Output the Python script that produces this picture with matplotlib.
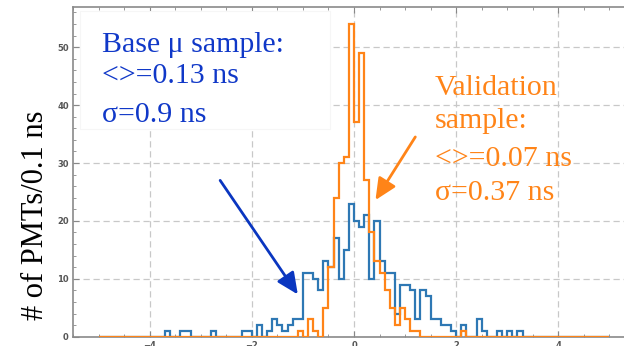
import numpy as np
import matplotlib
matplotlib.use("Agg")
import matplotlib.pyplot as plt
from matplotlib.patches import Rectangle
from matplotlib.ticker import MultipleLocator

# bin edges: -5 ns .. 5 ns in 0.1 ns steps
edges = np.round(np.linspace(-5.0, 5.0, 101), 2)

# counts per 0.1 ns bin, base muon sample
base_counts = [
    0, 0, 0, 0, 0, 0, 0, 0, 0, 0,
    0, 0, 0, 1, 0, 0, 1, 1, 0, 0,
    0, 0, 1, 0, 0, 0, 0, 0, 1, 1,
    0, 2, 0, 1, 3, 2, 1, 2, 3, 3,
    11, 11, 10, 8, 13, 12, 17, 10, 15, 23,
    20, 19, 21, 10, 20, 13, 11, 11, 4, 9,
    9, 8, 3, 8, 7, 3, 3, 2, 2, 1,
    0, 2, 0, 0, 3, 1, 0, 0, 1, 0,
    1, 0, 1, 0, 0, 0, 0, 0, 0, 0,
    0, 0, 0, 0, 0, 0, 0, 0, 0, 0,
]

# counts per 0.1 ns bin, validation sample
valid_counts = [
    0, 0, 0, 0, 0, 0, 0, 0, 0, 0,
    0, 0, 0, 0, 0, 0, 0, 0, 0, 0,
    0, 0, 0, 0, 0, 0, 0, 0, 0, 0,
    0, 0, 0, 0, 0, 0, 0, 0, 0, 1,
    0, 3, 1, 0, 5, 12, 24, 30, 31, 54,
    37, 49, 27, 18, 13, 11, 8, 5, 2, 5,
    3, 1, 1, 0, 0, 0, 0, 0, 0, 0,
    0, 1, 0, 0, 0, 0, 0, 0, 0, 0,
    0, 0, 0, 0, 0, 0, 0, 0, 0, 0,
    0, 0, 0, 0, 0, 0, 0, 0, 0, 0,
]

base_text = ["Base \u03bc sample:", "<>=0.13 ns", "\u03c3=0.9 ns"]
valid_text = ["Validation", "sample:", "<>=0.07 ns", "\u03c3=0.37 ns"]

BLUE_LINE = "#2e78b4"
ORANGE = "#ff8418"
BLUE_TEXT = "#1038c8"
W, H = 624, 346

fig = plt.figure(figsize=(W / 100, H / 100), dpi=100)
ax = fig.add_axes([73 / W, 9.3 / H, 562 / W, 330 / H])

ax.stairs(base_counts, edges, color=BLUE_LINE, lw=1.6, zorder=3)
ax.stairs(valid_counts, edges, color=ORANGE, lw=1.6, zorder=4)

ax.set_xlim(-5.5, 5.5)
ax.set_ylim(0, 57)
ax.xaxis.set_major_locator(MultipleLocator(2))
ax.xaxis.set_minor_locator(MultipleLocator(0.5))
ax.yaxis.set_major_locator(MultipleLocator(10))
ax.yaxis.set_minor_locator(MultipleLocator(2))
ax.tick_params(which="both", direction="in", top=True, right=True,
               colors="#888888", labelcolor="#555555", labelsize=6)
ax.tick_params(which="major", length=4, width=0.8, pad=3.0)
ax.tick_params(which="minor", length=2.5, width=0.6)
for lab in ax.get_xticklabels() + ax.get_yticklabels():
    lab.set_fontweight("bold")
ax.grid(True, which="major", color="#c8c8c8", lw=0.9, ls=(0, (5, 3)))
for side in ["left", "bottom", "top", "right"]:
    ax.spines[side].set_color("#8a8a8a")
    ax.spines[side].set_linewidth(1.2)

# white panel behind the base-sample legend text
ax.add_patch(Rectangle((80 / W, 1 - 129 / H), 250 / W, 118 / H,
                       transform=fig.transFigure, facecolor="white",
                       edgecolor="#f6f6f6", lw=0.8, zorder=2))

serif = "Liberation Serif"
for txt, yb in zip(base_text, [51.7, 83.3, 121.7]):
    fig.text(102 / W, 1 - yb / H, txt, color=BLUE_TEXT, fontsize=21.5,
             family=serif, va="baseline", ha="left", zorder=5)
for txt, yb in zip(valid_text, [95, 128, 166, 200]):
    fig.text(435 / W, 1 - yb / H, txt, color=ORANGE, fontsize=21.5,
             family=serif, va="baseline", ha="left", zorder=5)

fig.text(36 / W, 1 - 215 / H, "# of PMTs/0.1 ns", rotation=90, fontsize=22,
         family=serif, ha="center", va="center", color="black")

ax.annotate("", xy=(-1.10, 7.3), xytext=(-2.62, 27.0),
            arrowprops=dict(arrowstyle="-|>,head_length=0.65,head_width=0.3",
                            color="#0a36c0", lw=2.0, mutation_scale=20,
                            shrinkA=0, shrinkB=0), zorder=6)
ax.annotate("", xy=(0.42, 23.6), xytext=(1.20, 34.5),
            arrowprops=dict(arrowstyle="-|>,head_length=0.65,head_width=0.3",
                            color=ORANGE, lw=2.0, mutation_scale=20,
                            shrinkA=0, shrinkB=0), zorder=6)

fig.savefig("out.png", dpi=100)
